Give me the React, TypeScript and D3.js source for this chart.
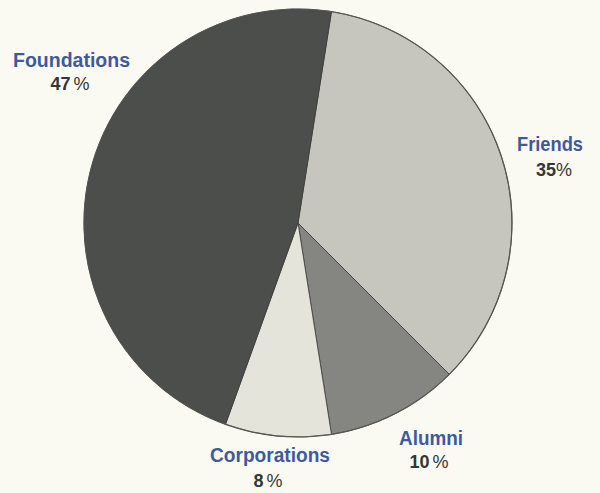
import { useEffect, useRef } from 'react'
import * as d3 from 'd3'

const categories = ['Friends', 'Alumni', 'Corporations', 'Foundations']
const shares = [35, 10, 8, 47]
const sliceColors = ['#c6c6be', '#858581', '#e4e4db', '#4b4e4b']
// label layout: center x, baseline, width
const nameLayout: [number, number, number][] = [[550, 151, 66], [431, 445, 64], [270, 462, 120], [71.5, 67, 117]]
const pctLayout: [number, number, number][] = [[554, 176, 0], [429, 468, 3], [268, 487, 3], [70, 90, 3]]

export default function App() {
  const svgRef = useRef<SVGSVGElement>(null)

  useEffect(() => {
    if (!svgRef.current) return
    const width = 600
    const height = 493
    const cx = 298
    const cy = 223
    const r = 214

    const svg = d3.select(svgRef.current)
    svg.selectAll('*').remove()
    svg.attr('width', width).attr('height', height)

    svg.append('rect').attr('width', width).attr('height', height).attr('fill', '#fbfaf2')

    const startAngle = (9 * Math.PI) / 180
    const pie = d3.pie<number>()
      .sort(null)
      .startAngle(startAngle)
      .endAngle(startAngle + Math.PI * 2)
    const arc = d3.arc<d3.PieArcDatum<number>>().innerRadius(0).outerRadius(r)

    const g = svg.append('g').attr('transform', `translate(${cx},${cy})`)
    g.selectAll('path')
      .data(pie(shares))
      .join('path')
      .attr('d', arc)
      .attr('fill', (_, i) => sliceColors[i])
      .attr('stroke', '#3a3a38')
      .attr('stroke-width', 0.8)
      .attr('stroke-linejoin', 'round')

    // outline
    g.append('circle').attr('r', r).attr('fill', 'none').attr('stroke', '#555552').attr('stroke-width', 1.2)

    const font = '"Liberation Sans", Arial, sans-serif'
    categories.forEach((name, i) => {
      const [nx, ny, nw] = nameLayout[i]
      const [px, py, gap] = pctLayout[i]
      svg.append('text')
        .attr('x', nx - nw / 2).attr('y', ny)
        .attr('font-family', font)
        .attr('font-weight', 'bold')
        .attr('font-size', 20)
        .attr('textLength', nw)
        .attr('lengthAdjust', 'spacingAndGlyphs')
        .attr('fill', '#3f5a9c')
        .text(name)
      const t = svg.append('text')
        .attr('x', px).attr('y', py)
        .attr('text-anchor', 'middle')
        .attr('font-family', font)
        .attr('font-size', 18)
        .attr('fill', '#363634')
      t.append('tspan').attr('font-weight', 'bold').text(String(shares[i]))
      t.append('tspan').attr('dx', gap).text('%')
    })
  }, [])

  return <svg ref={svgRef} style={{ display: 'block', position: 'absolute', left: 0, top: 0 }} />
}
